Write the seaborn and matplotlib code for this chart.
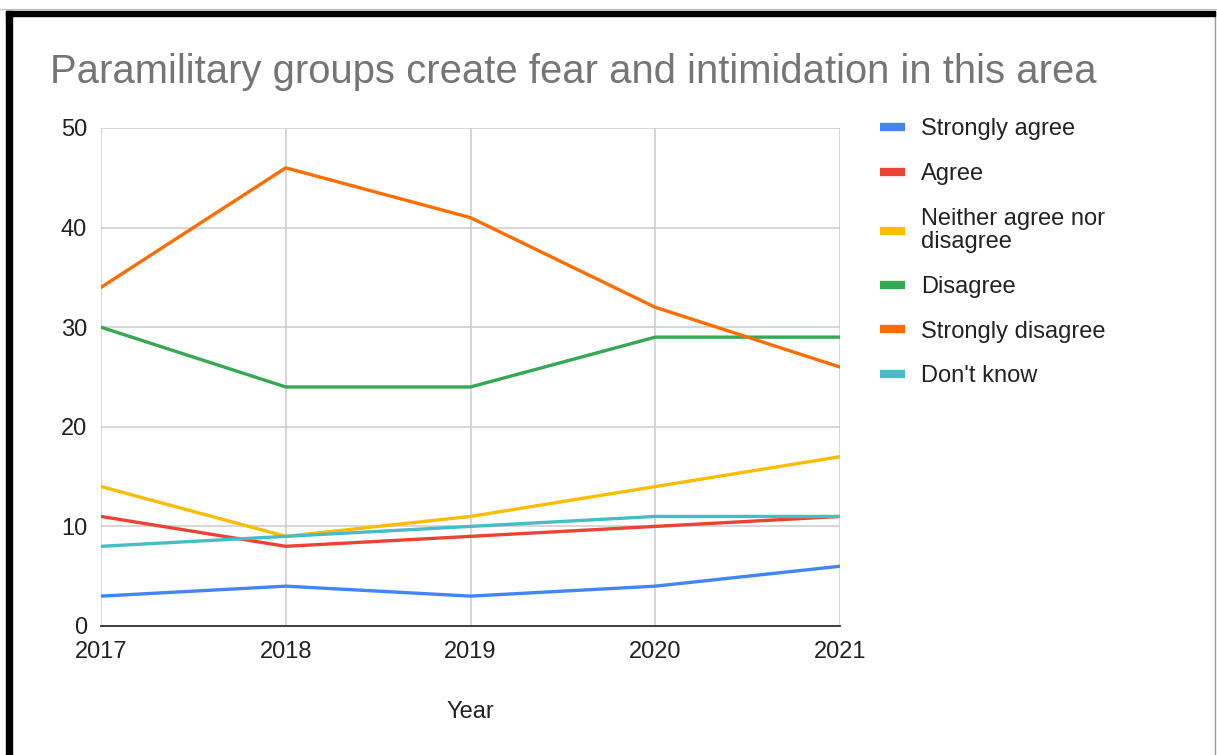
import matplotlib
matplotlib.use("Agg")
import matplotlib.pyplot as plt
from matplotlib.patches import Rectangle
from matplotlib.lines import Line2D
import seaborn as sns
import pandas as pd

years = [2017, 2018, 2019, 2020, 2021]
series_names = ["Strongly agree", "Agree", "Neither agree nor disagree",
                "Disagree", "Strongly disagree", "Don't know"]
strongly_agree = [3, 4, 3, 4, 6]
agree = [11, 8, 9, 10, 11]
neither = [14, 9, 11, 14, 17]
disagree = [30, 24, 24, 29, 29]
strongly_disagree = [34, 46, 41, 32, 26]
dont_know = [8, 9, 10, 11, 11]
legend_labels = ["Strongly agree", "Agree", "Neither agree nor\ndisagree",
                 "Disagree", "Strongly disagree", "Don't know"]
colors = ["#4285F4", "#EA4335", "#FBBC04", "#34A853", "#FF6D01", "#46BDC6"]
y_ticks = [0, 10, 20, 30, 40, 50]

all_vals = [strongly_agree, agree, neither, disagree, strongly_disagree, dont_know]
rows = []
for name, vals in zip(series_names, all_vals):
    for yr, v in zip(years, vals):
        rows.append({"Year": yr, "Value": v, "Series": name})
df = pd.DataFrame(rows)

sns.set_theme(style="white")
plt.rcParams['font.family'] = ['Liberation Sans', 'DejaVu Sans']

fig = plt.figure(figsize=(12.17, 7.55), dpi=100)
W, H = 1217, 755
ax = fig.add_axes([101 / W, 1 - 626 / H, (840 - 101) / W, (626 - 128) / H])

sns.lineplot(data=df, x="Year", y="Value", hue="Series", hue_order=series_names,
             palette=colors, linewidth=2.4, ax=ax, legend=False)

FS = 17
ax.set_xlim(2017, 2021)
ax.set_ylim(0, 50)
ax.set_xticks(years)
ax.set_xticklabels([str(y) for y in years])
ax.set_yticks(y_ticks)
ax.grid(True, color="#cccccc", linewidth=1.1)
ax.set_axisbelow(True)
for s in ["top", "right", "left"]:
    ax.spines[s].set_visible(False)
ax.spines["bottom"].set_color("#333333")
ax.spines["bottom"].set_linewidth(1.3)
ax.spines["bottom"].set_zorder(5)
ax.tick_params(axis="both", length=0, labelsize=FS, labelcolor="#222222")
ax.tick_params(axis="x", pad=11)
ax.tick_params(axis="y", pad=10)
ax.set_xlabel("Year", fontsize=FS, color="#222222", labelpad=27.5)
ax.set_ylabel("")

fig.text(50 / W, 1 - 72 / H, "Paramilitary groups create fear and intimidation in this area",
         fontsize=28.8, color="#757575", va="center", ha="left")

handles = [Line2D([0], [0], color=c, linewidth=6, solid_capstyle="butt") for c in colors]
leg = fig.legend(handles, legend_labels, loc="upper left",
                 bbox_to_anchor=(880 / W, 1 - 118.5 / H), frameon=False,
                 fontsize=FS, handlelength=1.05, handletextpad=0.68,
                 labelspacing=0.96, borderaxespad=0, borderpad=0)
for t in leg.get_texts():
    t.set_color("#222222")
    t.set_linespacing(1.08)

# screenshot frame
fig.add_artist(Rectangle((6 / W, 0), 6 / W, (H - 11) / H, transform=fig.transFigure,
                         color="black", zorder=10))
fig.add_artist(Rectangle((6 / W, 1 - 16 / H), (1215 - 6) / W, 5 / H, transform=fig.transFigure,
                         color="black", zorder=10))
fig.add_artist(Line2D([0, 1], [1 - 9 / H, 1 - 9 / H], transform=fig.transFigure,
                      color="#bbbbbb", linewidth=0.8))
fig.add_artist(Line2D([1215 / W, 1215 / W], [0, 1 - 11 / H], transform=fig.transFigure,
                      color="#999999", linewidth=1))

fig.savefig("out.png", dpi=100)
